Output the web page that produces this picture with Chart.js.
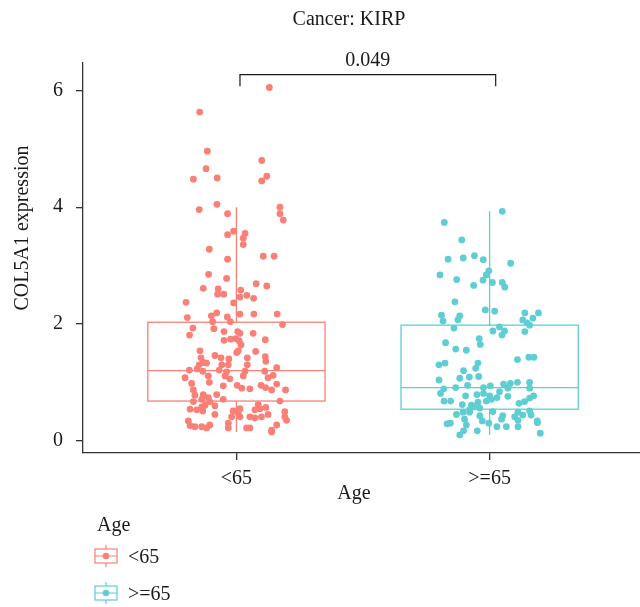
<!DOCTYPE html>
<html>
<head>
<meta charset="utf-8">
<script src="https://cdn.jsdelivr.net/npm/chart.js@4.4.0/dist/chart.umd.min.js"></script>
<style>
  html, body { margin: 0; padding: 0; background: #fff; }
</style>
</head>
<body>
<canvas id="myChart" width="640" height="607"></canvas>
<script>
// grupos de edad
const grupos = ["<65", ">=65"];
const tituloGrafica = "Cancer: KIRP";
const pValor = "0.049";

// resumen de las cajas (por grupo)
const bigoteInf = [0.15, 0.10];
const cuartil1 = [0.68, 0.54];
const mediana = [1.20, 0.91];
const cuartil3 = [2.03, 1.98];
const bigoteSup = [4.00, 3.93];

// marcas del eje y
const ticksY = [0, 2, 4, 6];

// puntos <65: desplazamiento horizontal (jitter) y expresion
const jitterMenor = [
  0.13, -0.145, -0.115, 0.10, -0.12, -0.17, -0.076, 0.12, 0.10, -0.147, -0.077, -0.035, 0.172, 0.172, 0.185,
  -0.035, -0.011, 0.034, 0.027, 0.027, -0.107, 0.106, 0.149, -0.035,
  -0.11, -0.039, -0.131, -0.072, -0.074, -0.05, 0.078, 0.12, 0.017, 0.014, 0.041, 0.068, -0.199, -0.011,
  -0.194, -0.099, -0.078, -0.036, -0.024, 0.014, 0.069, 0.161, 0.182, -0.094, -0.172, -0.089, -0.185,
  -0.049, 0.005, 0.014, 0.066, -0.049, -0.023, -0.002, 0.011, 0.018, 0.114, 0.007, 0.001, -0.144, 0.076,
  -0.14, -0.085, -0.061, -0.03, 0.043, 0.114,
  0.116, -0.131, -0.147, -0.118, -0.058, -0.032, 0.043, -0.186, -0.155, -0.133, -0.068, -0.039, 0.034,
  0.112, 0.159, -0.203, -0.111, -0.045, -0.026, 0.027, 0.125, 0.145, -0.107, -0.177, -0.052, 0.003,
  0.021, 0.053, 0.097, 0.115, 0.139, 0.159, 0.194, -0.17, -0.164, -0.131, -0.078, -0.052, -0.137, -0.111,
  -0.17, -0.105, 0.172, -0.124, -0.085, -0.137, 0.014, 0.086, 0.093, 0.116, -0.183, -0.157, -0.133,
  -0.013, 0.007, 0.073, 0.191, -0.085, -0.019, 0.014, 0.053, 0.073, 0.099, 0.125, 0.191, -0.19, 0.198,
  -0.032, -0.183, -0.164, -0.137, -0.118, -0.105, -0.032, 0.04, 0.053, 0.139, 0.159, 0.139
];
const exprMenor = [
  6.05, 5.63, 4.96, 4.80, 4.66, 4.48, 4.50, 4.53, 4.45, 3.96, 4.05, 3.89, 4.00, 3.89, 3.78,
  3.53, 3.59, 3.55, 3.47, 3.36, 3.28, 3.16, 3.16, 3.11,
  2.85, 2.78, 2.61, 2.60, 2.51, 2.51, 2.69, 2.65, 2.58, 2.46, 2.49, 2.44, 2.37, 2.36,
  2.11, 2.14, 2.19, 2.12, 2.04, 2.17, 2.17, 2.17, 1.99, 2.04, 1.93, 1.92, 1.81,
  1.87, 1.87, 1.84, 1.84, 1.72, 1.74, 1.75, 1.71, 1.64, 1.73, 1.54, 1.51, 1.54, 1.53,
  1.42, 1.46, 1.42, 1.40, 1.42, 1.44,
  1.36, 1.34, 1.30, 1.33, 1.30, 1.30, 1.30, 1.21, 1.23, 1.19, 1.21, 1.18, 1.19,
  1.19, 1.25, 1.08, 1.11, 1.11, 1.06, 1.11, 1.08, 1.12, 1.00, 0.98, 0.94, 0.95,
  0.90, 0.89, 0.95, 0.91, 0.87, 0.97, 0.87, 0.87, 0.78, 0.79, 0.79, 0.71, 0.71, 0.74,
  0.67, 0.67, 0.68, 0.61, 0.60, 0.58, 0.55, 0.62, 0.55, 0.57, 0.54, 0.53, 0.51,
  0.51, 0.47, 0.53, 0.50, 0.45, 0.41, 0.41, 0.41, 0.39, 0.41, 0.45, 0.41, 0.34, 0.35,
  0.30, 0.26, 0.24, 0.24, 0.22, 0.27, 0.22, 0.22, 0.22, 0.18, 0.27, 0.15
];

// puntos >=65
const jitterMayor = [
  0.05, -0.179, -0.11, -0.164, -0.104, -0.06, -0.025, 0.083, -0.196, -0.003, -0.013, -0.13, -0.026,
  0.011, 0.05, 0.06, -0.063, -0.137, -0.017, 0.02, 0.139, 0.193, -0.19, -0.118, -0.125, -0.184,
  0.171, 0.131, 0.147, 0.158, -0.141,
  0.039, 0.059, 0.013, 0.049, 0.139, -0.041, -0.037, -0.174, -0.134, -0.092, 0.11, 0.155, 0.175,
  -0.2, -0.176, -0.046, -0.055, -0.103, -0.2, -0.118, -0.08, -0.043, -0.087, -0.134, -0.181, -0.194,
  -0.024, 0.003, 0.055, 0.082, 0.11, 0.158, 0.158, 0.072, -0.024, 0.0, 0.039, -0.05, -0.095, 0.072,
  0.029, 0.174, 0.158, -0.18, -0.154, -0.108, -0.072, -0.046, -0.013, 0.007, 0.116, 0.138,
  -0.079, -0.059, -0.039, -0.131, -0.105, -0.079, 0.013, 0.112, 0.131, 0.158, 0.164, -0.039, 0.052,
  0.099, -0.099, -0.029, 0.047, 0.112, 0.188, -0.168, -0.155, -0.092, -0.003, 0.029, 0.066, 0.112,
  0.189, -0.103, -0.049, -0.118, 0.2
];
const exprMayor = [
  3.93, 3.74, 3.44, 3.11, 3.13, 3.17, 3.10, 3.04, 2.84, 2.91, 2.84, 2.76, 2.75,
  2.71, 2.71, 2.63, 2.66, 2.38, 2.24, 2.22, 2.19, 2.19, 2.15, 2.14, 2.07, 2.05,
  2.10, 2.07, 2.02, 1.98, 1.93,
  1.95, 1.88, 1.88, 1.81, 1.87, 1.75, 1.65, 1.68, 1.57, 1.55, 1.39, 1.43, 1.43,
  1.30, 1.33, 1.33, 1.24, 1.20, 1.04, 1.07, 1.09, 1.10, 0.95, 0.91, 0.89, 0.81,
  0.91, 0.94, 0.97, 0.98, 1.00, 1.00, 0.90, 0.90, 0.81, 0.77, 0.84, 0.79, 0.77, 0.76,
  0.74, 0.77, 0.73, 0.68, 0.68, 0.62, 0.61, 0.66, 0.68, 0.71, 0.64, 0.67,
  0.53, 0.58, 0.56, 0.45, 0.49, 0.49, 0.50, 0.49, 0.44, 0.51, 0.44, 0.43, 0.43,
  0.41, 0.37, 0.34, 0.37, 0.35, 0.34, 0.29, 0.30, 0.27, 0.30, 0.24, 0.24, 0.24,
  0.31, 0.17, 0.17, 0.10, 0.13
];

const colores = ["rgb(250, 127, 118)", "rgb(94, 206, 210)"];
const fuente = "'Liberation Serif', 'Times New Roman', serif";
const anchoCaja = 0.7;

function puntos(jitter, expr, grupo) {
  return expr.map((v, i) => ({ x: grupo + jitter[i], y: v }));
}

// cajas, bigotes y medianas debajo de los puntos
const cajas = {
  id: "cajas",
  beforeDatasetsDraw(chart) {
    const { ctx, scales } = chart;
    const x = scales.x, y = scales.y;
    grupos.forEach((g, i) => {
      const c = i + 1;
      const xc = x.getPixelForValue(c);
      const x0 = x.getPixelForValue(c - anchoCaja / 2);
      const x1 = x.getPixelForValue(c + anchoCaja / 2);
      const yq1 = y.getPixelForValue(cuartil1[i]);
      const yq3 = y.getPixelForValue(cuartil3[i]);
      const ym = y.getPixelForValue(mediana[i]);
      ctx.save();
      ctx.strokeStyle = colores[i];
      ctx.lineWidth = 1.3;
      ctx.beginPath();
      ctx.moveTo(xc, y.getPixelForValue(bigoteSup[i]));
      ctx.lineTo(xc, yq3);
      ctx.moveTo(xc, yq1);
      ctx.lineTo(xc, y.getPixelForValue(bigoteInf[i]));
      ctx.stroke();
      ctx.strokeRect(x0, yq3, x1 - x0, yq1 - yq3);
      ctx.beginPath();
      ctx.moveTo(x0, ym);
      ctx.lineTo(x1, ym);
      ctx.stroke();
      ctx.restore();
    });
  },
  afterDraw(chart) {
    const { ctx, scales } = chart;
    const x = scales.x, y = scales.y;
    ctx.save();
    ctx.fillStyle = "#1a1a1a";
    ctx.font = "20px " + fuente;
    ctx.textAlign = "center";
    ctx.textBaseline = "alphabetic";
    ctx.fillText(tituloGrafica, 349, 25);

    // corchete de comparacion
    const bx0 = x.getPixelForValue(1.014), bx1 = x.getPixelForValue(2.024);
    const byTop = y.getPixelForValue(6.27), byEnd = y.getPixelForValue(6.07);
    ctx.strokeStyle = "#1a1a1a";
    ctx.lineWidth = 1.2;
    ctx.beginPath();
    ctx.moveTo(bx0, byEnd);
    ctx.lineTo(bx0, byTop);
    ctx.lineTo(bx1, byTop);
    ctx.lineTo(bx1, byEnd);
    ctx.stroke();
    ctx.fillText(pValor, (bx0 + bx1) / 2, byTop - 9);

    // titulos de ejes
    ctx.fillText("Age", 354, 499);
    ctx.save();
    ctx.translate(28, 228);
    ctx.rotate(-Math.PI / 2);
    ctx.fillText("COL5A1 expression", 0, 0);
    ctx.restore();

    // leyenda
    ctx.textAlign = "left";
    ctx.fillText("Age", 97, 531);
    grupos.forEach((g, i) => {
      const cy = 556 + i * 37;
      ctx.strokeStyle = colores[i];
      ctx.fillStyle = colores[i];
      ctx.lineWidth = 1.2;
      ctx.beginPath();
      ctx.moveTo(106, cy - 11);
      ctx.lineTo(106, cy - 7);
      ctx.moveTo(106, cy + 7);
      ctx.lineTo(106, cy + 11);
      ctx.moveTo(95, cy);
      ctx.lineTo(117, cy);
      ctx.stroke();
      ctx.strokeRect(95, cy - 7, 22, 14);
      ctx.beginPath();
      ctx.arc(106, cy, 3.3, 0, Math.PI * 2);
      ctx.fill();
      ctx.fillStyle = "#1a1a1a";
      ctx.fillText(g, 128, cy + 7);
    });
    ctx.restore();
  }
};

const config = {
  type: "scatter",
  data: {
    datasets: [
      {
        label: grupos[0],
        data: puntos(jitterMenor, exprMenor, 1),
        backgroundColor: colores[0],
        borderWidth: 0,
        pointRadius: 3.4,
      },
      {
        label: grupos[1],
        data: puntos(jitterMayor, exprMayor, 2),
        backgroundColor: colores[1],
        borderWidth: 0,
        pointRadius: 3.4,
      },
    ],
  },
  options: {
    responsive: false,
    animation: false,
    events: [],
    layout: { autoPadding: false, padding: { left: 0, right: 0, top: 63, bottom: 100 } },
    plugins: {
      legend: { display: false },
      tooltip: { enabled: false },
    },
    scales: {
      x: {
        type: "linear",
        min: 0.394,
        max: 2.594,
        afterBuildTicks: (s) => { s.ticks = [{ value: 1 }, { value: 2 }]; },
        afterFit: (s) => { s.height = 54; },
        ticks: {
          callback: (v) => grupos[v - 1],
          color: "#1a1a1a",
          font: { family: fuente, size: 20 },
          padding: 7,
          maxRotation: 0,
        },
        grid: { display: true, drawOnChartArea: false, drawTicks: true, tickLength: 7, color: "#333", lineWidth: 1.3 },
        border: { display: true, color: "#333", width: 1.3 },
      },
      y: {
        min: -0.21,
        max: 6.47,
        afterBuildTicks: (s) => { s.ticks = ticksY.map((v) => ({ value: v })); },
        afterFit: (s) => { s.width = 83; },
        ticks: {
          color: "#1a1a1a",
          font: { family: fuente, size: 20 },
          padding: 13,
        },
        grid: { display: true, drawOnChartArea: false, drawTicks: true, tickLength: 7, color: "#333", lineWidth: 1.3 },
        border: { display: true, color: "#333", width: 1.3 },
      },
    },
  },
  plugins: [cajas],
};

const myChart = new Chart(document.getElementById("myChart"), config);
</script>
</body>
</html>
